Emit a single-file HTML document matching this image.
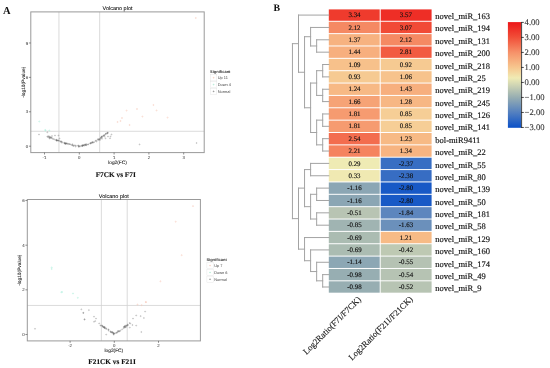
<!DOCTYPE html><html><head><meta charset="utf-8"><style>html,body{margin:0;padding:0;background:#fff;overflow:hidden;width:550px;height:368px}svg{display:block;text-rendering:geometricPrecision;filter:blur(0.35px)}</style></head><body>
<svg width="550" height="368" viewBox="0 0 550 368">
<rect width="550" height="368" fill="#fff"/>
<rect x="328.8" y="9.40" width="50.90" height="11.36" fill="#ef3b2d"/>
<rect x="380.70" y="9.40" width="50.90" height="11.36" fill="#ee2e26"/>
<rect x="328.8" y="21.76" width="50.90" height="11.36" fill="#f58963"/>
<rect x="380.70" y="21.76" width="50.90" height="11.36" fill="#f14a36"/>
<rect x="328.8" y="34.12" width="50.90" height="11.36" fill="#f7b280"/>
<rect x="380.70" y="34.12" width="50.90" height="11.36" fill="#f58963"/>
<rect x="328.8" y="46.48" width="50.90" height="11.36" fill="#f7af7e"/>
<rect x="380.70" y="46.48" width="50.90" height="11.36" fill="#f25b41"/>
<rect x="328.8" y="58.84" width="50.90" height="11.36" fill="#f7c18b"/>
<rect x="380.70" y="58.84" width="50.90" height="11.36" fill="#f6ca92"/>
<rect x="328.8" y="71.20" width="50.90" height="11.36" fill="#f6ca92"/>
<rect x="380.70" y="71.20" width="50.90" height="11.36" fill="#f7c38c"/>
<rect x="328.8" y="83.56" width="50.90" height="11.36" fill="#f7b985"/>
<rect x="380.70" y="83.56" width="50.90" height="11.36" fill="#f7af7e"/>
<rect x="328.8" y="95.92" width="50.90" height="11.36" fill="#f6a376"/>
<rect x="380.70" y="95.92" width="50.90" height="11.36" fill="#f7b784"/>
<rect x="328.8" y="108.28" width="50.90" height="11.36" fill="#f69b70"/>
<rect x="380.70" y="108.28" width="50.90" height="11.36" fill="#f6ce96"/>
<rect x="328.8" y="120.64" width="50.90" height="11.36" fill="#f69b70"/>
<rect x="380.70" y="120.64" width="50.90" height="11.36" fill="#f6ce96"/>
<rect x="328.8" y="133.00" width="50.90" height="11.36" fill="#f36d4f"/>
<rect x="380.70" y="133.00" width="50.90" height="11.36" fill="#f7ba85"/>
<rect x="328.8" y="145.36" width="50.90" height="11.36" fill="#f5835f"/>
<rect x="380.70" y="145.36" width="50.90" height="11.36" fill="#f7b481"/>
<rect x="328.8" y="157.72" width="50.90" height="11.36" fill="#efebb4"/>
<rect x="380.70" y="157.72" width="50.90" height="11.36" fill="#376ec3"/>
<rect x="328.8" y="170.08" width="50.90" height="11.36" fill="#f0e9b2"/>
<rect x="380.70" y="170.08" width="50.90" height="11.36" fill="#376dc3"/>
<rect x="328.8" y="182.44" width="50.90" height="11.36" fill="#8ba6b4"/>
<rect x="380.70" y="182.44" width="50.90" height="11.36" fill="#1859c6"/>
<rect x="328.8" y="194.80" width="50.90" height="11.36" fill="#8ba6b4"/>
<rect x="380.70" y="194.80" width="50.90" height="11.36" fill="#1859c6"/>
<rect x="328.8" y="207.16" width="50.90" height="11.36" fill="#b8c4b3"/>
<rect x="380.70" y="207.16" width="50.90" height="11.36" fill="#5d86be"/>
<rect x="328.8" y="219.52" width="50.90" height="11.36" fill="#a0b4b2"/>
<rect x="380.70" y="219.52" width="50.90" height="11.36" fill="#6b90bb"/>
<rect x="328.8" y="231.88" width="50.90" height="11.36" fill="#abbcb2"/>
<rect x="380.70" y="231.88" width="50.90" height="11.36" fill="#f7bb86"/>
<rect x="328.8" y="244.24" width="50.90" height="11.36" fill="#abbcb2"/>
<rect x="380.70" y="244.24" width="50.90" height="11.36" fill="#bec9b3"/>
<rect x="328.8" y="256.60" width="50.90" height="11.36" fill="#8ca7b4"/>
<rect x="380.70" y="256.60" width="50.90" height="11.36" fill="#b5c2b3"/>
<rect x="328.8" y="268.96" width="50.90" height="11.36" fill="#97aeb2"/>
<rect x="380.70" y="268.96" width="50.90" height="11.36" fill="#b6c3b3"/>
<rect x="328.8" y="281.32" width="50.90" height="11.36" fill="#97aeb2"/>
<rect x="380.70" y="281.32" width="50.90" height="11.36" fill="#b7c4b3"/>
<g font-family="Liberation Serif, serif" font-size="6.9" fill="#111" stroke="#111" stroke-width="0.15" text-anchor="middle">
<text x="354.50" y="17.18">3.34</text>
<text x="405.90" y="17.18">3.57</text>
<text x="354.50" y="29.54">2.12</text>
<text x="405.90" y="29.54">3.07</text>
<text x="354.50" y="41.90">1.37</text>
<text x="405.90" y="41.90">2.12</text>
<text x="354.50" y="54.26">1.44</text>
<text x="405.90" y="54.26">2.81</text>
<text x="354.50" y="66.62">1.09</text>
<text x="405.90" y="66.62">0.92</text>
<text x="354.50" y="78.98">0.93</text>
<text x="405.90" y="78.98">1.06</text>
<text x="354.50" y="91.34">1.24</text>
<text x="405.90" y="91.34">1.43</text>
<text x="354.50" y="103.70">1.66</text>
<text x="405.90" y="103.70">1.28</text>
<text x="354.50" y="116.06">1.81</text>
<text x="405.90" y="116.06">0.85</text>
<text x="354.50" y="128.42">1.81</text>
<text x="405.90" y="128.42">0.85</text>
<text x="354.50" y="140.78">2.54</text>
<text x="405.90" y="140.78">1.23</text>
<text x="354.50" y="153.14">2.21</text>
<text x="405.90" y="153.14">1.34</text>
<text x="354.50" y="165.50">0.29</text>
<text x="405.90" y="165.50">-2.37</text>
<text x="354.50" y="177.86">0.33</text>
<text x="405.90" y="177.86">-2.38</text>
<text x="354.50" y="190.22">-1.16</text>
<text x="405.90" y="190.22">-2.80</text>
<text x="354.50" y="202.58">-1.16</text>
<text x="405.90" y="202.58">-2.80</text>
<text x="354.50" y="214.94">-0.51</text>
<text x="405.90" y="214.94">-1.84</text>
<text x="354.50" y="227.30">-0.85</text>
<text x="405.90" y="227.30">-1.63</text>
<text x="354.50" y="239.66">-0.69</text>
<text x="405.90" y="239.66">1.21</text>
<text x="354.50" y="252.02">-0.69</text>
<text x="405.90" y="252.02">-0.42</text>
<text x="354.50" y="264.38">-1.14</text>
<text x="405.90" y="264.38">-0.55</text>
<text x="354.50" y="276.74">-0.98</text>
<text x="405.90" y="276.74">-0.54</text>
<text x="354.50" y="289.10">-0.98</text>
<text x="405.90" y="289.10">-0.52</text>
</g>
<g font-family="Liberation Serif, serif" font-size="8.5" fill="#111" stroke="#111" stroke-width="0.15">
<text x="435.3" y="18.98">novel_miR_163</text>
<text x="435.3" y="31.36">novel_miR_194</text>
<text x="435.3" y="43.75">novel_miR_131</text>
<text x="435.3" y="56.13">novel_miR_200</text>
<text x="435.3" y="68.51">novel_miR_218</text>
<text x="435.3" y="80.89">novel_miR_25</text>
<text x="435.3" y="93.28">novel_miR_219</text>
<text x="435.3" y="105.66">novel_miR_245</text>
<text x="435.3" y="118.04">novel_miR_126</text>
<text x="435.3" y="130.43">novel_miR_141</text>
<text x="435.3" y="142.81">bol-miR9411</text>
<text x="435.3" y="155.19">novel_miR_22</text>
<text x="435.3" y="167.58">novel_miR_55</text>
<text x="435.3" y="179.96">novel_miR_80</text>
<text x="435.3" y="192.34">novel_miR_139</text>
<text x="435.3" y="204.72">novel_miR_50</text>
<text x="435.3" y="217.11">novel_miR_181</text>
<text x="435.3" y="229.49">novel_miR_58</text>
<text x="435.3" y="241.87">novel_miR_129</text>
<text x="435.3" y="254.26">novel_miR_160</text>
<text x="435.3" y="266.64">novel_miR_174</text>
<text x="435.3" y="279.02">novel_miR_49</text>
<text x="435.3" y="291.41">novel_miR_9</text>
</g>
<path d="M298.50 15.08H328.80M310.60 27.44H328.80M316.65 39.80H328.80M316.65 52.16H328.80M316.65 39.80V52.16M310.60 45.98H316.65M310.60 27.44V45.98M304.55 36.71H310.60M322.70 64.52H328.80M322.70 76.88H328.80M322.70 89.24H328.80M322.70 101.60H328.80M322.70 113.96H328.80M322.70 126.32H328.80M322.70 138.68H328.80M322.70 151.04H328.80M322.70 64.52V76.88M316.65 70.70H322.70M322.70 89.24V101.60M316.65 95.42H322.70M322.70 113.96V126.32M316.65 120.14H322.70M322.70 138.68V151.04M316.65 144.86H322.70M316.65 70.70V95.42M310.60 83.06H316.65M316.65 120.14V144.86M310.60 132.50H316.65M310.60 83.06V132.50M304.55 107.78H310.60M304.55 36.71V107.78M298.50 72.25H304.55M298.50 15.08V72.25M292.45 43.66H298.50M310.60 163.40H328.80M310.60 175.76H328.80M310.60 163.40V175.76M304.55 169.58H310.60M316.65 188.12H328.80M316.65 200.48H328.80M316.65 212.84H328.80M316.65 225.20H328.80M316.65 188.12V200.48M310.60 194.30H316.65M316.65 212.84V225.20M310.60 219.02H316.65M310.60 194.30V219.02M304.55 206.66H310.60M304.55 169.58V206.66M298.50 188.12H304.55M304.55 237.56H328.80M310.60 249.92H328.80M316.65 262.28H328.80M322.70 274.64H328.80M322.70 287.00H328.80M322.70 274.64V287.00M316.65 280.82H322.70M316.65 262.28V280.82M310.60 271.55H316.65M310.60 249.92V271.55M304.55 260.73H310.60M304.55 237.56V260.73M298.50 249.15H304.55M298.50 188.12V249.15M292.45 218.63H298.50M292.45 43.66V218.63" stroke="#a3a3a3" stroke-width="1" fill="none" stroke-linecap="square"/>
<defs><linearGradient id="cb" x1="0" y1="1" x2="0" y2="0">
<stop offset="0.0000" stop-color="#0a50c8"/>
<stop offset="0.1429" stop-color="#527fc0"/>
<stop offset="0.2857" stop-color="#96adb2"/>
<stop offset="0.4286" stop-color="#dbddb4"/>
<stop offset="0.4714" stop-color="#f0ebb4"/>
<stop offset="0.5714" stop-color="#f7c68e"/>
<stop offset="0.7143" stop-color="#f69169"/>
<stop offset="0.8571" stop-color="#f14e38"/>
<stop offset="1.0000" stop-color="#ec1618"/>
</linearGradient></defs>
<rect x="507.9" y="22.1" width="13.300000000000068" height="105.69999999999999" fill="url(#cb)"/>
<path d="M521.6 22.1V127.8" stroke="#1a1a1a" stroke-width="0.8"/>
<g font-family="Liberation Serif, serif" font-size="8.6" fill="#333" stroke="#333" stroke-width="0.1">
<path d="M521.2 22.40H523.8000000000001" stroke="#1a1a1a" stroke-width="0.8"/>
<text x="524.6" y="25.40">4.00</text>
<path d="M521.2 37.41H523.8000000000001" stroke="#1a1a1a" stroke-width="0.8"/>
<text x="524.6" y="40.41">3.00</text>
<path d="M521.2 52.42H523.8000000000001" stroke="#1a1a1a" stroke-width="0.8"/>
<text x="524.6" y="55.42">2.00</text>
<path d="M521.2 67.43H523.8000000000001" stroke="#1a1a1a" stroke-width="0.8"/>
<text x="524.6" y="70.43">1.00</text>
<path d="M521.2 82.44H523.8000000000001" stroke="#1a1a1a" stroke-width="0.8"/>
<text x="524.6" y="85.44">0.00</text>
<path d="M521.2 97.45H523.8000000000001" stroke="#1a1a1a" stroke-width="0.8"/>
<text x="524.6" y="100.45">−1.00</text>
<path d="M521.2 112.46H523.8000000000001" stroke="#1a1a1a" stroke-width="0.8"/>
<text x="524.6" y="115.46">−2.00</text>
<path d="M521.2 127.47H523.8000000000001" stroke="#1a1a1a" stroke-width="0.8"/>
<text x="524.6" y="130.47">−3.00</text>
</g>
<g font-family="Liberation Serif, serif" font-size="8.6" fill="#111" stroke="#111" stroke-width="0.12" text-anchor="end">
<text transform="translate(361.5,300.0) rotate(-45)">Log2Ratio(F7I/F7CK)</text>
<text transform="translate(413.2,299.7) rotate(-45)">Log2Ratio(F21I/F21CK)</text>
</g>
<g font-family="Liberation Serif, serif" font-weight="bold" fill="#111">
<text x="3.0" y="14.0" font-size="10.5">A</text>
<text x="273.6" y="10.6" font-size="9.8">B</text>
</g>
<g stroke="#d2d2d2" stroke-width="0.8">
<path d="M58.94 11.9V152.6"/>
<path d="M99.66 11.9V152.6"/>
<path d="M30.8 131.28H204.2"/>
</g>
<circle cx="61.52" cy="141.64" r="0.5" fill="none" stroke="#6a6a6a" stroke-width="0.3"/>
<circle cx="83.84" cy="145.12" r="0.5" fill="none" stroke="#6a6a6a" stroke-width="0.3"/>
<circle cx="85.17" cy="144.93" r="0.5" fill="none" stroke="#6a6a6a" stroke-width="0.3"/>
<circle cx="98.09" cy="139.53" r="0.5" fill="none" stroke="#6a6a6a" stroke-width="0.3"/>
<circle cx="62.82" cy="142.51" r="0.5" fill="none" stroke="#6a6a6a" stroke-width="0.3"/>
<circle cx="75.69" cy="146.64" r="0.5" fill="none" stroke="#6a6a6a" stroke-width="0.3"/>
<circle cx="98.02" cy="139.05" r="0.5" fill="none" stroke="#6a6a6a" stroke-width="0.3"/>
<circle cx="56.19" cy="140.10" r="0.5" fill="none" stroke="#6a6a6a" stroke-width="0.3"/>
<circle cx="85.73" cy="145.02" r="0.5" fill="none" stroke="#6a6a6a" stroke-width="0.3"/>
<circle cx="92.22" cy="142.13" r="0.5" fill="none" stroke="#6a6a6a" stroke-width="0.3"/>
<circle cx="87.96" cy="144.60" r="0.5" fill="none" stroke="#6a6a6a" stroke-width="0.3"/>
<circle cx="83.06" cy="145.61" r="0.5" fill="none" stroke="#6a6a6a" stroke-width="0.3"/>
<circle cx="65.38" cy="143.85" r="0.5" fill="none" stroke="#6a6a6a" stroke-width="0.3"/>
<circle cx="75.84" cy="145.65" r="0.5" fill="none" stroke="#6a6a6a" stroke-width="0.3"/>
<circle cx="90.85" cy="143.41" r="0.5" fill="none" stroke="#6a6a6a" stroke-width="0.3"/>
<circle cx="103.19" cy="135.90" r="0.5" fill="none" stroke="#6a6a6a" stroke-width="0.3"/>
<circle cx="71.09" cy="144.73" r="0.5" fill="none" stroke="#6a6a6a" stroke-width="0.3"/>
<circle cx="104.07" cy="135.30" r="0.5" fill="none" stroke="#6a6a6a" stroke-width="0.3"/>
<circle cx="100.61" cy="138.15" r="0.5" fill="none" stroke="#6a6a6a" stroke-width="0.3"/>
<circle cx="60.24" cy="141.64" r="0.5" fill="none" stroke="#6a6a6a" stroke-width="0.3"/>
<circle cx="105.89" cy="133.87" r="0.5" fill="none" stroke="#6a6a6a" stroke-width="0.3"/>
<circle cx="65.36" cy="143.35" r="0.5" fill="none" stroke="#6a6a6a" stroke-width="0.3"/>
<circle cx="77.94" cy="145.58" r="0.5" fill="none" stroke="#6a6a6a" stroke-width="0.3"/>
<circle cx="82.69" cy="145.67" r="0.5" fill="none" stroke="#6a6a6a" stroke-width="0.3"/>
<circle cx="82.64" cy="145.90" r="0.5" fill="none" stroke="#6a6a6a" stroke-width="0.3"/>
<circle cx="103.67" cy="135.65" r="0.5" fill="none" stroke="#6a6a6a" stroke-width="0.3"/>
<circle cx="99.24" cy="139.36" r="0.5" fill="none" stroke="#6a6a6a" stroke-width="0.3"/>
<circle cx="56.95" cy="140.29" r="0.5" fill="none" stroke="#6a6a6a" stroke-width="0.3"/>
<circle cx="99.50" cy="139.42" r="0.5" fill="none" stroke="#6a6a6a" stroke-width="0.3"/>
<circle cx="81.72" cy="145.47" r="0.5" fill="none" stroke="#6a6a6a" stroke-width="0.3"/>
<circle cx="90.54" cy="143.29" r="0.5" fill="none" stroke="#6a6a6a" stroke-width="0.3"/>
<circle cx="81.99" cy="146.23" r="0.5" fill="none" stroke="#6a6a6a" stroke-width="0.3"/>
<circle cx="64.38" cy="143.51" r="0.5" fill="none" stroke="#6a6a6a" stroke-width="0.3"/>
<circle cx="107.38" cy="133.44" r="0.5" fill="none" stroke="#6a6a6a" stroke-width="0.3"/>
<circle cx="52.40" cy="138.54" r="0.5" fill="none" stroke="#6a6a6a" stroke-width="0.3"/>
<circle cx="56.20" cy="139.68" r="0.5" fill="none" stroke="#6a6a6a" stroke-width="0.3"/>
<circle cx="64.93" cy="143.12" r="0.5" fill="none" stroke="#6a6a6a" stroke-width="0.3"/>
<circle cx="49.70" cy="136.48" r="0.5" fill="none" stroke="#6a6a6a" stroke-width="0.3"/>
<circle cx="84.49" cy="145.59" r="0.5" fill="none" stroke="#6a6a6a" stroke-width="0.3"/>
<circle cx="67.19" cy="143.82" r="0.5" fill="none" stroke="#6a6a6a" stroke-width="0.3"/>
<circle cx="100.74" cy="138.33" r="0.5" fill="none" stroke="#6a6a6a" stroke-width="0.3"/>
<circle cx="107.91" cy="132.69" r="0.5" fill="none" stroke="#6a6a6a" stroke-width="0.3"/>
<circle cx="65.89" cy="143.73" r="0.5" fill="none" stroke="#6a6a6a" stroke-width="0.3"/>
<circle cx="48.91" cy="137.03" r="0.5" fill="none" stroke="#6a6a6a" stroke-width="0.3"/>
<circle cx="59.04" cy="140.70" r="0.5" fill="none" stroke="#6a6a6a" stroke-width="0.3"/>
<circle cx="56.53" cy="140.42" r="0.5" fill="none" stroke="#6a6a6a" stroke-width="0.3"/>
<circle cx="49.59" cy="137.34" r="0.5" fill="none" stroke="#6a6a6a" stroke-width="0.3"/>
<circle cx="105.48" cy="134.41" r="0.5" fill="none" stroke="#6a6a6a" stroke-width="0.3"/>
<circle cx="101.70" cy="137.01" r="0.5" fill="none" stroke="#6a6a6a" stroke-width="0.3"/>
<circle cx="78.72" cy="146.20" r="0.5" fill="none" stroke="#6a6a6a" stroke-width="0.3"/>
<circle cx="86.28" cy="144.21" r="0.5" fill="none" stroke="#6a6a6a" stroke-width="0.3"/>
<circle cx="84.83" cy="144.72" r="0.5" fill="none" stroke="#6a6a6a" stroke-width="0.3"/>
<circle cx="104.38" cy="135.07" r="0.5" fill="none" stroke="#6a6a6a" stroke-width="0.3"/>
<circle cx="90.94" cy="142.96" r="0.5" fill="none" stroke="#6a6a6a" stroke-width="0.3"/>
<circle cx="61.50" cy="141.66" r="0.5" fill="none" stroke="#6a6a6a" stroke-width="0.3"/>
<circle cx="78.79" cy="146.85" r="0.5" fill="none" stroke="#6a6a6a" stroke-width="0.3"/>
<circle cx="80.45" cy="146.21" r="0.5" fill="none" stroke="#6a6a6a" stroke-width="0.3"/>
<circle cx="82.38" cy="145.54" r="0.5" fill="none" stroke="#6a6a6a" stroke-width="0.3"/>
<circle cx="48.22" cy="136.11" r="0.5" fill="none" stroke="#6a6a6a" stroke-width="0.3"/>
<circle cx="50.66" cy="137.31" r="0.5" fill="none" stroke="#6a6a6a" stroke-width="0.3"/>
<circle cx="85.27" cy="144.34" r="0.5" fill="none" stroke="#6a6a6a" stroke-width="0.3"/>
<circle cx="68.51" cy="144.12" r="0.5" fill="none" stroke="#6a6a6a" stroke-width="0.3"/>
<circle cx="90.12" cy="143.29" r="0.5" fill="none" stroke="#6a6a6a" stroke-width="0.3"/>
<circle cx="50.70" cy="137.58" r="0.5" fill="none" stroke="#6a6a6a" stroke-width="0.3"/>
<circle cx="88.24" cy="144.23" r="0.5" fill="none" stroke="#6a6a6a" stroke-width="0.3"/>
<circle cx="74.84" cy="145.28" r="0.5" fill="none" stroke="#6a6a6a" stroke-width="0.3"/>
<circle cx="83.15" cy="145.22" r="0.5" fill="none" stroke="#6a6a6a" stroke-width="0.3"/>
<circle cx="66.07" cy="143.66" r="0.5" fill="none" stroke="#6a6a6a" stroke-width="0.3"/>
<circle cx="69.52" cy="144.01" r="0.5" fill="none" stroke="#6a6a6a" stroke-width="0.3"/>
<circle cx="70.01" cy="144.20" r="0.5" fill="none" stroke="#6a6a6a" stroke-width="0.3"/>
<circle cx="94.11" cy="142.04" r="0.5" fill="none" stroke="#6a6a6a" stroke-width="0.3"/>
<circle cx="91.85" cy="142.68" r="0.5" fill="none" stroke="#6a6a6a" stroke-width="0.3"/>
<circle cx="65.91" cy="143.43" r="0.5" fill="none" stroke="#6a6a6a" stroke-width="0.3"/>
<circle cx="61.56" cy="142.61" r="0.5" fill="none" stroke="#6a6a6a" stroke-width="0.3"/>
<circle cx="58.43" cy="140.39" r="0.5" fill="none" stroke="#6a6a6a" stroke-width="0.3"/>
<circle cx="53.21" cy="139.00" r="0.5" fill="none" stroke="#6a6a6a" stroke-width="0.3"/>
<circle cx="66.64" cy="143.19" r="0.5" fill="none" stroke="#6a6a6a" stroke-width="0.3"/>
<circle cx="73.74" cy="145.72" r="0.5" fill="none" stroke="#6a6a6a" stroke-width="0.3"/>
<circle cx="99.19" cy="139.02" r="0.5" fill="none" stroke="#6a6a6a" stroke-width="0.3"/>
<circle cx="86.66" cy="144.74" r="0.5" fill="none" stroke="#6a6a6a" stroke-width="0.3"/>
<circle cx="100.98" cy="137.52" r="0.5" fill="none" stroke="#6a6a6a" stroke-width="0.3"/>
<circle cx="54.38" cy="139.36" r="0.5" fill="none" stroke="#6a6a6a" stroke-width="0.3"/>
<circle cx="79.31" cy="146.23" r="0.5" fill="none" stroke="#6a6a6a" stroke-width="0.3"/>
<circle cx="98.15" cy="140.07" r="0.5" fill="none" stroke="#6a6a6a" stroke-width="0.3"/>
<circle cx="58.20" cy="140.68" r="0.5" fill="none" stroke="#6a6a6a" stroke-width="0.3"/>
<circle cx="86.16" cy="145.24" r="0.5" fill="none" stroke="#6a6a6a" stroke-width="0.3"/>
<circle cx="96.18" cy="140.45" r="0.5" fill="none" stroke="#6a6a6a" stroke-width="0.3"/>
<circle cx="64.81" cy="143.15" r="0.5" fill="none" stroke="#6a6a6a" stroke-width="0.3"/>
<circle cx="95.43" cy="140.90" r="0.5" fill="none" stroke="#6a6a6a" stroke-width="0.3"/>
<circle cx="72.43" cy="145.21" r="0.5" fill="none" stroke="#6a6a6a" stroke-width="0.3"/>
<circle cx="72.61" cy="144.26" r="0.5" fill="none" stroke="#6a6a6a" stroke-width="0.3"/>
<circle cx="56.52" cy="140.58" r="0.5" fill="none" stroke="#6a6a6a" stroke-width="0.3"/>
<circle cx="47.28" cy="136.68" r="0.5" fill="none" stroke="#6a6a6a" stroke-width="0.3"/>
<circle cx="107.20" cy="133.06" r="0.5" fill="none" stroke="#6a6a6a" stroke-width="0.3"/>
<circle cx="73.50" cy="145.86" r="0.5" fill="none" stroke="#6a6a6a" stroke-width="0.3"/>
<circle cx="60.55" cy="141.39" r="0.5" fill="none" stroke="#6a6a6a" stroke-width="0.3"/>
<circle cx="92.48" cy="142.60" r="0.5" fill="none" stroke="#6a6a6a" stroke-width="0.3"/>
<circle cx="78.66" cy="145.48" r="0.5" fill="none" stroke="#6a6a6a" stroke-width="0.3"/>
<circle cx="64.63" cy="142.81" r="0.5" fill="none" stroke="#6a6a6a" stroke-width="0.3"/>
<circle cx="51.15" cy="138.08" r="0.5" fill="none" stroke="#6a6a6a" stroke-width="0.3"/>
<circle cx="82.91" cy="145.26" r="0.5" fill="none" stroke="#6a6a6a" stroke-width="0.3"/>
<circle cx="49.75" cy="137.84" r="0.5" fill="none" stroke="#6a6a6a" stroke-width="0.3"/>
<circle cx="102.12" cy="136.74" r="0.5" fill="none" stroke="#6a6a6a" stroke-width="0.3"/>
<circle cx="101.69" cy="136.55" r="0.5" fill="none" stroke="#6a6a6a" stroke-width="0.3"/>
<circle cx="101.88" cy="137.12" r="0.5" fill="none" stroke="#6a6a6a" stroke-width="0.3"/>
<circle cx="92.46" cy="142.31" r="0.5" fill="none" stroke="#6a6a6a" stroke-width="0.3"/>
<circle cx="57.48" cy="140.37" r="0.5" fill="none" stroke="#6a6a6a" stroke-width="0.3"/>
<circle cx="79.02" cy="146.46" r="0.5" fill="none" stroke="#6a6a6a" stroke-width="0.3"/>
<circle cx="72.24" cy="145.30" r="0.5" fill="none" stroke="#6a6a6a" stroke-width="0.3"/>
<circle cx="67.82" cy="143.65" r="0.5" fill="none" stroke="#6a6a6a" stroke-width="0.3"/>
<circle cx="39.00" cy="134.50" r="0.5" fill="none" stroke="#6a6a6a" stroke-width="0.3"/>
<circle cx="47.30" cy="132.30" r="0.5" fill="none" stroke="#6a6a6a" stroke-width="0.3"/>
<circle cx="107.50" cy="132.80" r="0.5" fill="none" stroke="#6a6a6a" stroke-width="0.3"/>
<circle cx="106.00" cy="133.50" r="0.5" fill="none" stroke="#6a6a6a" stroke-width="0.3"/>
<circle cx="111.50" cy="134.50" r="0.5" fill="none" stroke="#6a6a6a" stroke-width="0.3"/>
<circle cx="108.00" cy="136.50" r="0.5" fill="none" stroke="#6a6a6a" stroke-width="0.3"/>
<circle cx="110.50" cy="136.50" r="0.5" fill="none" stroke="#6a6a6a" stroke-width="0.3"/>
<circle cx="110.00" cy="138.30" r="0.5" fill="none" stroke="#6a6a6a" stroke-width="0.3"/>
<circle cx="104.50" cy="136.50" r="0.5" fill="none" stroke="#6a6a6a" stroke-width="0.3"/>
<circle cx="105.50" cy="138.30" r="0.5" fill="none" stroke="#6a6a6a" stroke-width="0.3"/>
<circle cx="102.00" cy="138.80" r="0.5" fill="none" stroke="#6a6a6a" stroke-width="0.3"/>
<circle cx="100.00" cy="140.00" r="0.5" fill="none" stroke="#6a6a6a" stroke-width="0.3"/>
<circle cx="96.50" cy="141.50" r="0.5" fill="none" stroke="#6a6a6a" stroke-width="0.3"/>
<circle cx="93.50" cy="142.50" r="0.5" fill="none" stroke="#6a6a6a" stroke-width="0.3"/>
<circle cx="139.60" cy="144.40" r="0.5" fill="none" stroke="#6a6a6a" stroke-width="0.3"/>
<circle cx="196.60" cy="143.00" r="0.5" fill="none" stroke="#6a6a6a" stroke-width="0.3"/>
<circle cx="48.00" cy="137.00" r="0.5" fill="none" stroke="#6a6a6a" stroke-width="0.3"/>
<circle cx="49.50" cy="138.50" r="0.5" fill="none" stroke="#6a6a6a" stroke-width="0.3"/>
<circle cx="51.50" cy="137.50" r="0.5" fill="none" stroke="#6a6a6a" stroke-width="0.3"/>
<circle cx="52.00" cy="136.00" r="0.5" fill="none" stroke="#6a6a6a" stroke-width="0.3"/>
<circle cx="55.00" cy="135.50" r="0.5" fill="none" stroke="#6a6a6a" stroke-width="0.3"/>
<circle cx="58.50" cy="135.50" r="0.5" fill="none" stroke="#6a6a6a" stroke-width="0.3"/>
<circle cx="57.00" cy="140.50" r="0.5" fill="none" stroke="#6a6a6a" stroke-width="0.3"/>
<circle cx="59.50" cy="138.50" r="0.5" fill="none" stroke="#6a6a6a" stroke-width="0.3"/>
<circle cx="117.60" cy="122.00" r="0.55" fill="none" stroke="#f4c4b4" stroke-width="0.5"/>
<circle cx="122.00" cy="118.00" r="0.55" fill="none" stroke="#f4c4b4" stroke-width="0.5"/>
<circle cx="126.60" cy="110.60" r="0.55" fill="none" stroke="#f4c4b4" stroke-width="0.5"/>
<circle cx="129.60" cy="125.00" r="0.55" fill="none" stroke="#f4c4b4" stroke-width="0.5"/>
<circle cx="137.00" cy="109.00" r="0.55" fill="none" stroke="#f4c4b4" stroke-width="0.5"/>
<circle cx="142.40" cy="116.60" r="0.55" fill="none" stroke="#f4c4b4" stroke-width="0.5"/>
<circle cx="153.40" cy="105.00" r="0.55" fill="none" stroke="#f4c4b4" stroke-width="0.5"/>
<circle cx="156.60" cy="110.40" r="0.55" fill="none" stroke="#f4c4b4" stroke-width="0.5"/>
<circle cx="167.60" cy="117.60" r="0.55" fill="none" stroke="#f4c4b4" stroke-width="0.5"/>
<circle cx="195.80" cy="18.00" r="0.55" fill="none" stroke="#f4c4b4" stroke-width="0.5"/>
<circle cx="120.50" cy="121.00" r="0.55" fill="none" stroke="#f4c4b4" stroke-width="0.5"/>
<circle cx="39.30" cy="121.50" r="0.55" fill="none" stroke="#a8ecd8" stroke-width="0.5"/>
<circle cx="45.20" cy="130.00" r="0.55" fill="none" stroke="#a8ecd8" stroke-width="0.5"/>
<circle cx="49.30" cy="130.50" r="0.55" fill="none" stroke="#a8ecd8" stroke-width="0.5"/>
<circle cx="45.60" cy="130.60" r="0.55" fill="none" stroke="#a8ecd8" stroke-width="0.5"/>
<rect x="30.8" y="11.9" width="173.39999999999998" height="140.7" fill="none" stroke="#999" stroke-width="1"/>
<g stroke="#444" stroke-width="0.6">
<path d="M44.50 152.6v1.9"/>
<path d="M79.30 152.6v1.9"/>
<path d="M114.10 152.6v1.9"/>
<path d="M148.90 152.6v1.9"/>
<path d="M183.70 152.6v1.9"/>
<path d="M30.8 146.20h-1.9"/>
<path d="M30.8 111.79h-1.9"/>
<path d="M30.8 77.38h-1.9"/>
<path d="M30.8 42.97h-1.9"/>
</g>
<g font-family="Liberation Sans, sans-serif" font-size="4.3" fill="#444" stroke="#444" stroke-width="0.06">
<text x="44.50" y="159.00" text-anchor="middle">-1</text>
<text x="79.30" y="159.00" text-anchor="middle">0</text>
<text x="114.10" y="159.00" text-anchor="middle">1</text>
<text x="148.90" y="159.00" text-anchor="middle">2</text>
<text x="183.70" y="159.00" text-anchor="middle">3</text>
<text x="28.10" y="147.80" text-anchor="end">0</text>
<text x="28.10" y="113.39" text-anchor="end">3</text>
<text x="28.10" y="78.98" text-anchor="end">6</text>
<text x="28.10" y="44.57" text-anchor="end">9</text>
</g>
<text x="117.50" y="10.3" font-family="Liberation Sans, sans-serif" font-size="5.5" fill="#000" stroke="#000" stroke-width="0.05" text-anchor="middle">Volcano plot</text>
<text x="117.50" y="163.80" font-family="Liberation Sans, sans-serif" font-size="4.8" fill="#222" stroke="#222" stroke-width="0.08" text-anchor="middle">log2(FC)</text>
<text transform="translate(24.70,82.25) rotate(-90)" font-family="Liberation Sans, sans-serif" font-size="4.8" fill="#222" stroke="#222" stroke-width="0.08" text-anchor="middle">-log10(Pvalue)</text>
<text transform="translate(210,72.90) scale(0.25)" font-family="Liberation Sans, sans-serif" font-weight="bold" font-size="16" fill="#333">Significant</text>
<rect x="210.5" y="74.60" width="6.3" height="6.3" fill="#fff" stroke="#e0e0e0" stroke-width="0.4"/>
<circle cx="213.65" cy="77.75" r="0.45" fill="none" stroke="#f0a890" stroke-width="0.4"/>
<text transform="translate(217.8,79.30) scale(0.25)" font-family="Liberation Sans, sans-serif" font-size="15.6" fill="#444">Up 11</text>
<rect x="210.5" y="81.40" width="6.3" height="6.3" fill="#fff" stroke="#e0e0e0" stroke-width="0.4"/>
<circle cx="213.65" cy="84.55" r="0.45" fill="none" stroke="#70d8b0" stroke-width="0.4"/>
<text transform="translate(217.8,86.10) scale(0.25)" font-family="Liberation Sans, sans-serif" font-size="15.6" fill="#444">Down 4</text>
<rect x="210.5" y="88.20" width="6.3" height="6.3" fill="#fff" stroke="#e0e0e0" stroke-width="0.4"/>
<circle cx="213.65" cy="91.35" r="0.45" fill="none" stroke="#333" stroke-width="0.4"/>
<text transform="translate(217.8,92.90) scale(0.25)" font-family="Liberation Sans, sans-serif" font-size="15.6" fill="#444">Normal</text>
<text x="115.70" y="176.7" font-family="Liberation Serif, serif" font-weight="bold" font-size="7.3" fill="#111" stroke="#111" stroke-width="0.12" text-anchor="middle">F7CK vs F7I</text>
<g stroke="#d2d2d2" stroke-width="0.8">
<path d="M101.37 199.5V340.9"/>
<path d="M127.23 199.5V340.9"/>
<path d="M27.3 305.45H200.4"/>
</g>
<circle cx="108.57" cy="330.67" r="0.5" fill="none" stroke="#6a6a6a" stroke-width="0.3"/>
<circle cx="124.47" cy="326.85" r="0.5" fill="none" stroke="#6a6a6a" stroke-width="0.3"/>
<circle cx="111.56" cy="332.53" r="0.5" fill="none" stroke="#6a6a6a" stroke-width="0.3"/>
<circle cx="125.50" cy="327.17" r="0.5" fill="none" stroke="#6a6a6a" stroke-width="0.3"/>
<circle cx="106.14" cy="328.94" r="0.5" fill="none" stroke="#6a6a6a" stroke-width="0.3"/>
<circle cx="125.18" cy="325.71" r="0.5" fill="none" stroke="#6a6a6a" stroke-width="0.3"/>
<circle cx="125.70" cy="327.15" r="0.5" fill="none" stroke="#6a6a6a" stroke-width="0.3"/>
<circle cx="126.88" cy="325.68" r="0.5" fill="none" stroke="#6a6a6a" stroke-width="0.3"/>
<circle cx="102.50" cy="326.12" r="0.5" fill="none" stroke="#6a6a6a" stroke-width="0.3"/>
<circle cx="116.82" cy="332.88" r="0.5" fill="none" stroke="#6a6a6a" stroke-width="0.3"/>
<circle cx="113.69" cy="332.93" r="0.5" fill="none" stroke="#6a6a6a" stroke-width="0.3"/>
<circle cx="101.05" cy="325.34" r="0.5" fill="none" stroke="#6a6a6a" stroke-width="0.3"/>
<circle cx="102.65" cy="326.45" r="0.5" fill="none" stroke="#6a6a6a" stroke-width="0.3"/>
<circle cx="103.05" cy="326.74" r="0.5" fill="none" stroke="#6a6a6a" stroke-width="0.3"/>
<circle cx="130.24" cy="323.49" r="0.5" fill="none" stroke="#6a6a6a" stroke-width="0.3"/>
<circle cx="116.06" cy="332.83" r="0.5" fill="none" stroke="#6a6a6a" stroke-width="0.3"/>
<circle cx="110.48" cy="331.42" r="0.5" fill="none" stroke="#6a6a6a" stroke-width="0.3"/>
<circle cx="120.41" cy="330.47" r="0.5" fill="none" stroke="#6a6a6a" stroke-width="0.3"/>
<circle cx="118.60" cy="331.07" r="0.5" fill="none" stroke="#6a6a6a" stroke-width="0.3"/>
<circle cx="110.86" cy="332.11" r="0.5" fill="none" stroke="#6a6a6a" stroke-width="0.3"/>
<circle cx="104.71" cy="326.94" r="0.5" fill="none" stroke="#6a6a6a" stroke-width="0.3"/>
<circle cx="112.41" cy="332.64" r="0.5" fill="none" stroke="#6a6a6a" stroke-width="0.3"/>
<circle cx="103.40" cy="327.00" r="0.5" fill="none" stroke="#6a6a6a" stroke-width="0.3"/>
<circle cx="119.13" cy="331.35" r="0.5" fill="none" stroke="#6a6a6a" stroke-width="0.3"/>
<circle cx="124.48" cy="326.62" r="0.5" fill="none" stroke="#6a6a6a" stroke-width="0.3"/>
<circle cx="119.69" cy="331.15" r="0.5" fill="none" stroke="#6a6a6a" stroke-width="0.3"/>
<circle cx="113.95" cy="333.55" r="0.5" fill="none" stroke="#6a6a6a" stroke-width="0.3"/>
<circle cx="122.09" cy="329.33" r="0.5" fill="none" stroke="#6a6a6a" stroke-width="0.3"/>
<circle cx="113.62" cy="333.54" r="0.5" fill="none" stroke="#6a6a6a" stroke-width="0.3"/>
<circle cx="108.35" cy="329.63" r="0.5" fill="none" stroke="#6a6a6a" stroke-width="0.3"/>
<circle cx="117.08" cy="332.25" r="0.5" fill="none" stroke="#6a6a6a" stroke-width="0.3"/>
<circle cx="113.75" cy="333.64" r="0.5" fill="none" stroke="#6a6a6a" stroke-width="0.3"/>
<circle cx="113.78" cy="334.70" r="0.5" fill="none" stroke="#6a6a6a" stroke-width="0.3"/>
<circle cx="112.23" cy="331.98" r="0.5" fill="none" stroke="#6a6a6a" stroke-width="0.3"/>
<circle cx="127.94" cy="325.03" r="0.5" fill="none" stroke="#6a6a6a" stroke-width="0.3"/>
<circle cx="114.92" cy="333.40" r="0.5" fill="none" stroke="#6a6a6a" stroke-width="0.3"/>
<circle cx="104.69" cy="327.95" r="0.5" fill="none" stroke="#6a6a6a" stroke-width="0.3"/>
<circle cx="127.62" cy="324.46" r="0.5" fill="none" stroke="#6a6a6a" stroke-width="0.3"/>
<circle cx="124.77" cy="326.67" r="0.5" fill="none" stroke="#6a6a6a" stroke-width="0.3"/>
<circle cx="117.92" cy="331.03" r="0.5" fill="none" stroke="#6a6a6a" stroke-width="0.3"/>
<circle cx="104.09" cy="327.22" r="0.5" fill="none" stroke="#6a6a6a" stroke-width="0.3"/>
<circle cx="105.31" cy="328.06" r="0.5" fill="none" stroke="#6a6a6a" stroke-width="0.3"/>
<circle cx="124.23" cy="327.66" r="0.5" fill="none" stroke="#6a6a6a" stroke-width="0.3"/>
<circle cx="103.98" cy="327.24" r="0.5" fill="none" stroke="#6a6a6a" stroke-width="0.3"/>
<circle cx="127.41" cy="325.33" r="0.5" fill="none" stroke="#6a6a6a" stroke-width="0.3"/>
<circle cx="126.25" cy="326.18" r="0.5" fill="none" stroke="#6a6a6a" stroke-width="0.3"/>
<circle cx="104.64" cy="328.05" r="0.5" fill="none" stroke="#6a6a6a" stroke-width="0.3"/>
<circle cx="126.09" cy="325.56" r="0.5" fill="none" stroke="#6a6a6a" stroke-width="0.3"/>
<circle cx="129.57" cy="323.03" r="0.5" fill="none" stroke="#6a6a6a" stroke-width="0.3"/>
<circle cx="102.09" cy="325.47" r="0.5" fill="none" stroke="#6a6a6a" stroke-width="0.3"/>
<circle cx="124.02" cy="326.80" r="0.5" fill="none" stroke="#6a6a6a" stroke-width="0.3"/>
<circle cx="104.20" cy="327.28" r="0.5" fill="none" stroke="#6a6a6a" stroke-width="0.3"/>
<circle cx="123.47" cy="328.13" r="0.5" fill="none" stroke="#6a6a6a" stroke-width="0.3"/>
<circle cx="110.73" cy="331.70" r="0.5" fill="none" stroke="#6a6a6a" stroke-width="0.3"/>
<circle cx="117.92" cy="331.91" r="0.5" fill="none" stroke="#6a6a6a" stroke-width="0.3"/>
<circle cx="106.39" cy="328.49" r="0.5" fill="none" stroke="#6a6a6a" stroke-width="0.3"/>
<circle cx="108.50" cy="329.63" r="0.5" fill="none" stroke="#6a6a6a" stroke-width="0.3"/>
<circle cx="112.81" cy="332.63" r="0.5" fill="none" stroke="#6a6a6a" stroke-width="0.3"/>
<circle cx="112.02" cy="332.28" r="0.5" fill="none" stroke="#6a6a6a" stroke-width="0.3"/>
<circle cx="113.55" cy="333.97" r="0.5" fill="none" stroke="#6a6a6a" stroke-width="0.3"/>
<circle cx="35.00" cy="328.80" r="0.5" fill="none" stroke="#6a6a6a" stroke-width="0.3"/>
<circle cx="88.90" cy="310.10" r="0.5" fill="none" stroke="#6a6a6a" stroke-width="0.3"/>
<circle cx="83.20" cy="312.90" r="0.5" fill="none" stroke="#6a6a6a" stroke-width="0.3"/>
<circle cx="84.50" cy="319.30" r="0.5" fill="none" stroke="#6a6a6a" stroke-width="0.3"/>
<circle cx="94.00" cy="316.70" r="0.5" fill="none" stroke="#6a6a6a" stroke-width="0.3"/>
<circle cx="96.00" cy="318.60" r="0.5" fill="none" stroke="#6a6a6a" stroke-width="0.3"/>
<circle cx="94.00" cy="321.80" r="0.5" fill="none" stroke="#6a6a6a" stroke-width="0.3"/>
<circle cx="99.20" cy="323.40" r="0.5" fill="none" stroke="#6a6a6a" stroke-width="0.3"/>
<circle cx="100.40" cy="325.60" r="0.5" fill="none" stroke="#6a6a6a" stroke-width="0.3"/>
<circle cx="81.30" cy="309.30" r="0.5" fill="none" stroke="#6a6a6a" stroke-width="0.3"/>
<circle cx="83.40" cy="312.90" r="0.5" fill="none" stroke="#6a6a6a" stroke-width="0.3"/>
<circle cx="84.60" cy="319.50" r="0.5" fill="none" stroke="#6a6a6a" stroke-width="0.3"/>
<circle cx="95.20" cy="321.10" r="0.5" fill="none" stroke="#6a6a6a" stroke-width="0.3"/>
<circle cx="133.00" cy="318.60" r="0.5" fill="none" stroke="#6a6a6a" stroke-width="0.3"/>
<circle cx="136.20" cy="315.40" r="0.5" fill="none" stroke="#6a6a6a" stroke-width="0.3"/>
<circle cx="140.70" cy="316.10" r="0.5" fill="none" stroke="#6a6a6a" stroke-width="0.3"/>
<circle cx="143.90" cy="318.00" r="0.5" fill="none" stroke="#6a6a6a" stroke-width="0.3"/>
<circle cx="145.10" cy="311.60" r="0.5" fill="none" stroke="#6a6a6a" stroke-width="0.3"/>
<circle cx="136.20" cy="325.60" r="0.5" fill="none" stroke="#6a6a6a" stroke-width="0.3"/>
<circle cx="141.30" cy="332.00" r="0.5" fill="none" stroke="#6a6a6a" stroke-width="0.3"/>
<circle cx="132.40" cy="325.00" r="0.5" fill="none" stroke="#6a6a6a" stroke-width="0.3"/>
<circle cx="129.80" cy="327.60" r="0.5" fill="none" stroke="#6a6a6a" stroke-width="0.3"/>
<circle cx="106.20" cy="334.60" r="0.5" fill="none" stroke="#6a6a6a" stroke-width="0.3"/>
<circle cx="193.00" cy="206.10" r="0.55" fill="none" stroke="#f4c4b4" stroke-width="0.5"/>
<circle cx="175.70" cy="221.70" r="0.55" fill="none" stroke="#f4c4b4" stroke-width="0.5"/>
<circle cx="181.70" cy="255.20" r="0.55" fill="none" stroke="#f4c4b4" stroke-width="0.5"/>
<circle cx="160.40" cy="281.30" r="0.55" fill="none" stroke="#f4c4b4" stroke-width="0.5"/>
<circle cx="146.00" cy="302.20" r="0.55" fill="none" stroke="#f4c4b4" stroke-width="0.5"/>
<circle cx="141.70" cy="305.20" r="0.55" fill="none" stroke="#f4c4b4" stroke-width="0.5"/>
<circle cx="137.50" cy="304.60" r="0.55" fill="none" stroke="#f4c4b4" stroke-width="0.5"/>
<circle cx="145.80" cy="302.00" r="0.55" fill="none" stroke="#f4c4b4" stroke-width="0.5"/>
<circle cx="51.70" cy="267.40" r="0.55" fill="none" stroke="#a8ecd8" stroke-width="0.5"/>
<circle cx="51.70" cy="269.00" r="0.55" fill="none" stroke="#a8ecd8" stroke-width="0.5"/>
<circle cx="61.30" cy="292.20" r="0.55" fill="none" stroke="#a8ecd8" stroke-width="0.5"/>
<circle cx="73.00" cy="293.50" r="0.55" fill="none" stroke="#a8ecd8" stroke-width="0.5"/>
<circle cx="77.80" cy="297.80" r="0.55" fill="none" stroke="#a8ecd8" stroke-width="0.5"/>
<circle cx="62.10" cy="292.00" r="0.55" fill="none" stroke="#a8ecd8" stroke-width="0.5"/>
<rect x="27.3" y="199.5" width="173.1" height="141.39999999999998" fill="none" stroke="#999" stroke-width="1"/>
<g stroke="#444" stroke-width="0.6">
<path d="M70.10 340.9v1.9"/>
<path d="M114.30 340.9v1.9"/>
<path d="M158.50 340.9v1.9"/>
<path d="M27.3 334.50h-1.9"/>
<path d="M27.3 289.84h-1.9"/>
<path d="M27.3 245.18h-1.9"/>
<path d="M27.3 200.52h-1.9"/>
</g>
<g font-family="Liberation Sans, sans-serif" font-size="4.3" fill="#444" stroke="#444" stroke-width="0.06">
<text x="70.10" y="347.30" text-anchor="middle">-2</text>
<text x="114.30" y="347.30" text-anchor="middle">0</text>
<text x="158.50" y="347.30" text-anchor="middle">2</text>
<text x="24.60" y="336.10" text-anchor="end">0</text>
<text x="24.60" y="291.44" text-anchor="end">2</text>
<text x="24.60" y="246.78" text-anchor="end">4</text>
<text x="24.60" y="202.12" text-anchor="end">6</text>
</g>
<text x="113.85" y="197.8" font-family="Liberation Sans, sans-serif" font-size="5.5" fill="#000" stroke="#000" stroke-width="0.05" text-anchor="middle">Volcano plot</text>
<text x="113.85" y="352.10" font-family="Liberation Sans, sans-serif" font-size="4.8" fill="#222" stroke="#222" stroke-width="0.08" text-anchor="middle">log2(FC)</text>
<text transform="translate(21.00,270.20) rotate(-90)" font-family="Liberation Sans, sans-serif" font-size="4.8" fill="#222" stroke="#222" stroke-width="0.08" text-anchor="middle">-log10(Pvalue)</text>
<text transform="translate(206.4,260.80) scale(0.25)" font-family="Liberation Sans, sans-serif" font-weight="bold" font-size="16" fill="#333">Significant</text>
<rect x="206.9" y="262.50" width="6.3" height="6.3" fill="#fff" stroke="#e0e0e0" stroke-width="0.4"/>
<circle cx="210.05" cy="265.65" r="0.45" fill="none" stroke="#f0a890" stroke-width="0.4"/>
<text transform="translate(214.20000000000002,267.20) scale(0.25)" font-family="Liberation Sans, sans-serif" font-size="15.6" fill="#444">Up 7</text>
<rect x="206.9" y="269.30" width="6.3" height="6.3" fill="#fff" stroke="#e0e0e0" stroke-width="0.4"/>
<circle cx="210.05" cy="272.45" r="0.45" fill="none" stroke="#70d8b0" stroke-width="0.4"/>
<text transform="translate(214.20000000000002,274.00) scale(0.25)" font-family="Liberation Sans, sans-serif" font-size="15.6" fill="#444">Down 6</text>
<rect x="206.9" y="276.10" width="6.3" height="6.3" fill="#fff" stroke="#e0e0e0" stroke-width="0.4"/>
<circle cx="210.05" cy="279.25" r="0.45" fill="none" stroke="#333" stroke-width="0.4"/>
<text transform="translate(214.20000000000002,280.80) scale(0.25)" font-family="Liberation Sans, sans-serif" font-size="15.6" fill="#444">Normal</text>
<text x="112.05" y="363.5" font-family="Liberation Serif, serif" font-weight="bold" font-size="7.3" fill="#111" stroke="#111" stroke-width="0.12" text-anchor="middle">F21CK vs F21I</text>
</svg></body></html>
